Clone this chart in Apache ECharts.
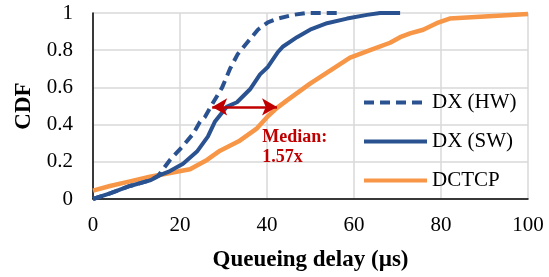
<!DOCTYPE html>
<html><head><meta charset="utf-8">
<script src="https://cdn.jsdelivr.net/npm/echarts@6/dist/echarts.min.js"></script>
<style>html,body{margin:0;padding:0;background:#fff}#c{width:549px;height:277px}</style>
</head><body><div id="c"></div>
<script>
const seriesNames = ['DX (HW)', 'DX (SW)', 'DCTCP'];
const dxHW = [[0,0],[3.9,0.03],[8.5,0.07],[13.1,0.10],[15,0.125],[17.7,0.21],[20.5,0.28],[23,0.35],[24.6,0.415],[25.7,0.44],[27.4,0.51],[29.7,0.60],[31.5,0.70],[33.3,0.78],[35.6,0.845],[37.9,0.91],[40.2,0.95],[42.5,0.97],[46,0.99],[49,1.0],[57,1.0]];
const dxSW = [[0,0],[3.9,0.03],[8.5,0.07],[13.1,0.10],[15.4,0.128],[17.7,0.15],[20.7,0.19],[23.9,0.255],[26.4,0.335],[28,0.415],[30.7,0.495],[33.1,0.52],[36.1,0.59],[38.4,0.67],[40.2,0.71],[42.5,0.79],[43.7,0.82],[46.9,0.87],[49.9,0.91],[53.8,0.945],[58.4,0.97],[63,0.99],[66,1.0],[70.6,1.0]];
const dctcp = [[0,0.045],[3.9,0.07],[8.5,0.095],[13.1,0.12],[17.7,0.14],[22.3,0.16],[26.2,0.21],[29.2,0.26],[33.5,0.31],[37.7,0.38],[40,0.44],[42.3,0.49],[44.6,0.53],[49.9,0.62],[54.5,0.69],[59.1,0.76],[63.7,0.80],[68.3,0.84],[70.6,0.87],[72.9,0.89],[75.9,0.91],[79,0.945],[82,0.97],[89,0.98],[100,0.995]];
const medianArrow = [[27.4,0.495],[42.3,0.495]];
const medianText = 'Median:\n1.57x';
const medianTextAt = [38.9, 0.277];
const xTicks = {min:0, max:100, interval:20};
const yTicks = {min:0, max:1, interval:0.2};

const blue = '#2A5290', orange = '#F79646', red = '#C00000';
const font = 'Liberation Serif';
const chart = echarts.init(document.getElementById('c'), null, {renderer:'canvas'});
chart.setOption({
  animation:false,
  backgroundColor:'#fff',
  textStyle:{fontFamily:font},
  grid:{left:93, right:21, top:13, bottom:76, containLabel:false},
  xAxis:{type:'value', min:xTicks.min, max:xTicks.max, interval:xTicks.interval,
    name:'Queueing delay (µs)', nameLocation:'middle', nameGap:50,
    nameTextStyle:{fontFamily:font, fontSize:23, fontWeight:'bold', color:'#000'},
    axisLine:{show:true, lineStyle:{color:'#000', width:1.5}}, axisTick:{show:false},
    axisLabel:{fontFamily:font, fontSize:21, color:'#000', margin:16},
    splitLine:{show:true, lineStyle:{color:'#d9d9d9', width:1.5}}},
  yAxis:{type:'value', min:yTicks.min, max:yTicks.max, interval:yTicks.interval,
    name:'CDF', nameLocation:'middle', nameGap:44, nameRotate:90,
    nameTextStyle:{fontFamily:font, fontSize:23, fontWeight:'bold', color:'#000'},
    axisLine:{show:true, lineStyle:{color:'#000', width:1.5}}, axisTick:{show:false},
    axisLabel:{fontFamily:font, fontSize:21, color:'#000', margin:20},
    splitLine:{show:true, lineStyle:{color:'#d9d9d9', width:1.5}}},
  legend:{orient:'vertical', left:357, top:87, itemWidth:63, itemHeight:14, itemGap:18,
    data:seriesNames,
    itemStyle:{color:'rgba(0,0,0,0)', borderColor:'rgba(0,0,0,0)', borderWidth:0, opacity:0},
    lineStyle:{width:4},
    textStyle:{fontFamily:font, fontSize:21, color:'#000'}},
  series:[
    {name:seriesNames[2], type:'line', data:dctcp, showSymbol:false, symbol:'none', z:2,
      lineStyle:{color:orange, width:4.5}, itemStyle:{color:orange}},
    {name:seriesNames[1], type:'line', data:dxSW, showSymbol:false, symbol:'none', z:3,
      lineStyle:{color:blue, width:4}, itemStyle:{color:blue}},
    {name:seriesNames[0], type:'line', data:dxHW, showSymbol:false, symbol:'none', z:4,
      lineStyle:{color:blue, width:4, type:[10,6]}, itemStyle:{color:blue}},
    {type:'line', data:[], z:5, silent:true,
      markLine:{silent:true, symbol:['arrow','arrow'], symbolSize:[13,15], animation:false,
        label:{show:false}, lineStyle:{color:red, width:2.5, type:'solid'},
        data:[[{coord:medianArrow[0]},{coord:medianArrow[1]}]]}}
  ]
});
const p = chart.convertToPixel({gridIndex:0}, medianTextAt);
chart.setOption({graphic:[{type:'text', x:p[0], y:p[1], z:10,
  style:{text:medianText, fill:red, font:'bold 18px "Liberation Serif"', lineHeight:20, align:'left', verticalAlign:'middle'}}]});
</script></body></html>
